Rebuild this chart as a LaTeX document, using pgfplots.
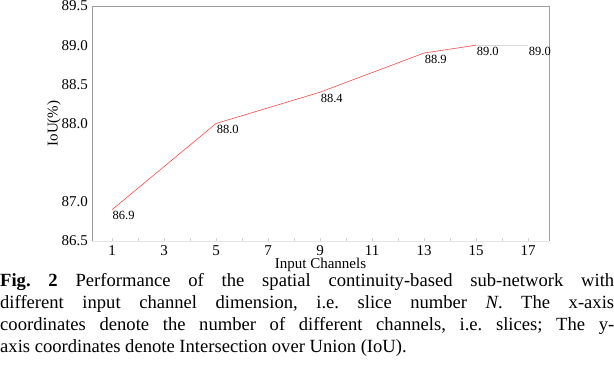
\documentclass[border=0pt]{standalone}
\usepackage{fontspec}
\setmainfont{Liberation Serif}
\usepackage{pgfplots}
\pgfplotsset{compat=1.18}
\definecolor{linered}{RGB}{255,72,72}
\begin{document}
\begin{tikzpicture}[x=1pt,y=1pt]
\useasboundingbox (0,0) rectangle (614,378);
\clip (0,0) rectangle (614,378);
\begin{axis}[
  at={(92pt,137pt)}, anchor=south west, scale only axis,
  width=457pt, height=235pt,
  xmin=0.23, xmax=17.8, ymin=86.5, ymax=89.5,
  axis x line*=bottom, axis y line*=left,
  x axis line style={-, draw=black!10, line width=0.8pt},
  y axis line style={-, draw=black!38, line width=0.8pt},
  xtick={1,3,...,17}, minor xtick={2,4,...,16},
  ytick={86.5,87,88,88.5,89,89.5},
  tick align=inside,
  major tick length=2.5pt, minor tick length=2.5pt,
  xtick style={draw=black!18, line width=0.6pt},
  ytick style={draw=none},
  /pgf/number format/assume math mode=true,
  tick label style={font=\fontsize{15}{16}\selectfont},
  yticklabel style={anchor=east, inner sep=0pt, xshift=-4pt,
    /pgf/number format/.cd, fixed, fixed zerofill, precision=1},
  xticklabel style={anchor=north, inner sep=0pt, yshift=-4pt},
  xlabel={Input Channels}, ylabel={IoU(\%)},
  label style={font=\fontsize{15}{16}\selectfont, inner sep=0pt},
  xlabel style={at={(axis description cs:0.5,-0.1191)}, anchor=base},
  ylabel style={at={(axis description cs:-0.0832,0.5)}, anchor=center},
  clip=false,
]
\draw[black!38, line width=0.8pt] (rel axis cs:0,1) -- (rel axis cs:1,1) -- (rel axis cs:1,0);
\addplot[linered, line width=0.6pt, mark=none] coordinates {
  (1,86.9) (5,88.0) (9,88.4) (13,88.9) (15,89.0)};
\addplot[black!15, line width=0.8pt, mark=none] coordinates {
  (15,89.0) (17,89.0)};
\addplot[draw=none, mark=none,
  nodes near coords={\pgfmathprintnumber[fixed,fixed zerofill,precision=1]{\pgfplotspointmeta}},
  nodes near coords style={font=\fontsize{12.5}{14}\selectfont, anchor=north west,
    inner sep=0pt, xshift=0.5pt, yshift=-1.5pt, text=black,
    /pgf/number format/assume math mode=true}]
  coordinates {(1,86.9) (5,88.0) (9,88.4) (13,88.9) (15,89.0) (17,89.0)};
\end{axis}
\node[anchor=base west, inner sep=0pt, text width=614pt, align=justify,
  font=\fontsize{18.6}{21.7}\selectfont] at (0,91)
  {\frenchspacing\textbf{Fig. 2} Performance of the spatial continuity-based sub-network with\linebreak
   different input channel dimension, i.e. slice number \textit{N}. The x-axis\linebreak
   coordinates denote the number of different channels, i.e. slices; The y-\linebreak
   axis coordinates denote Intersection over Union (IoU).};
\end{tikzpicture}
\end{document}
